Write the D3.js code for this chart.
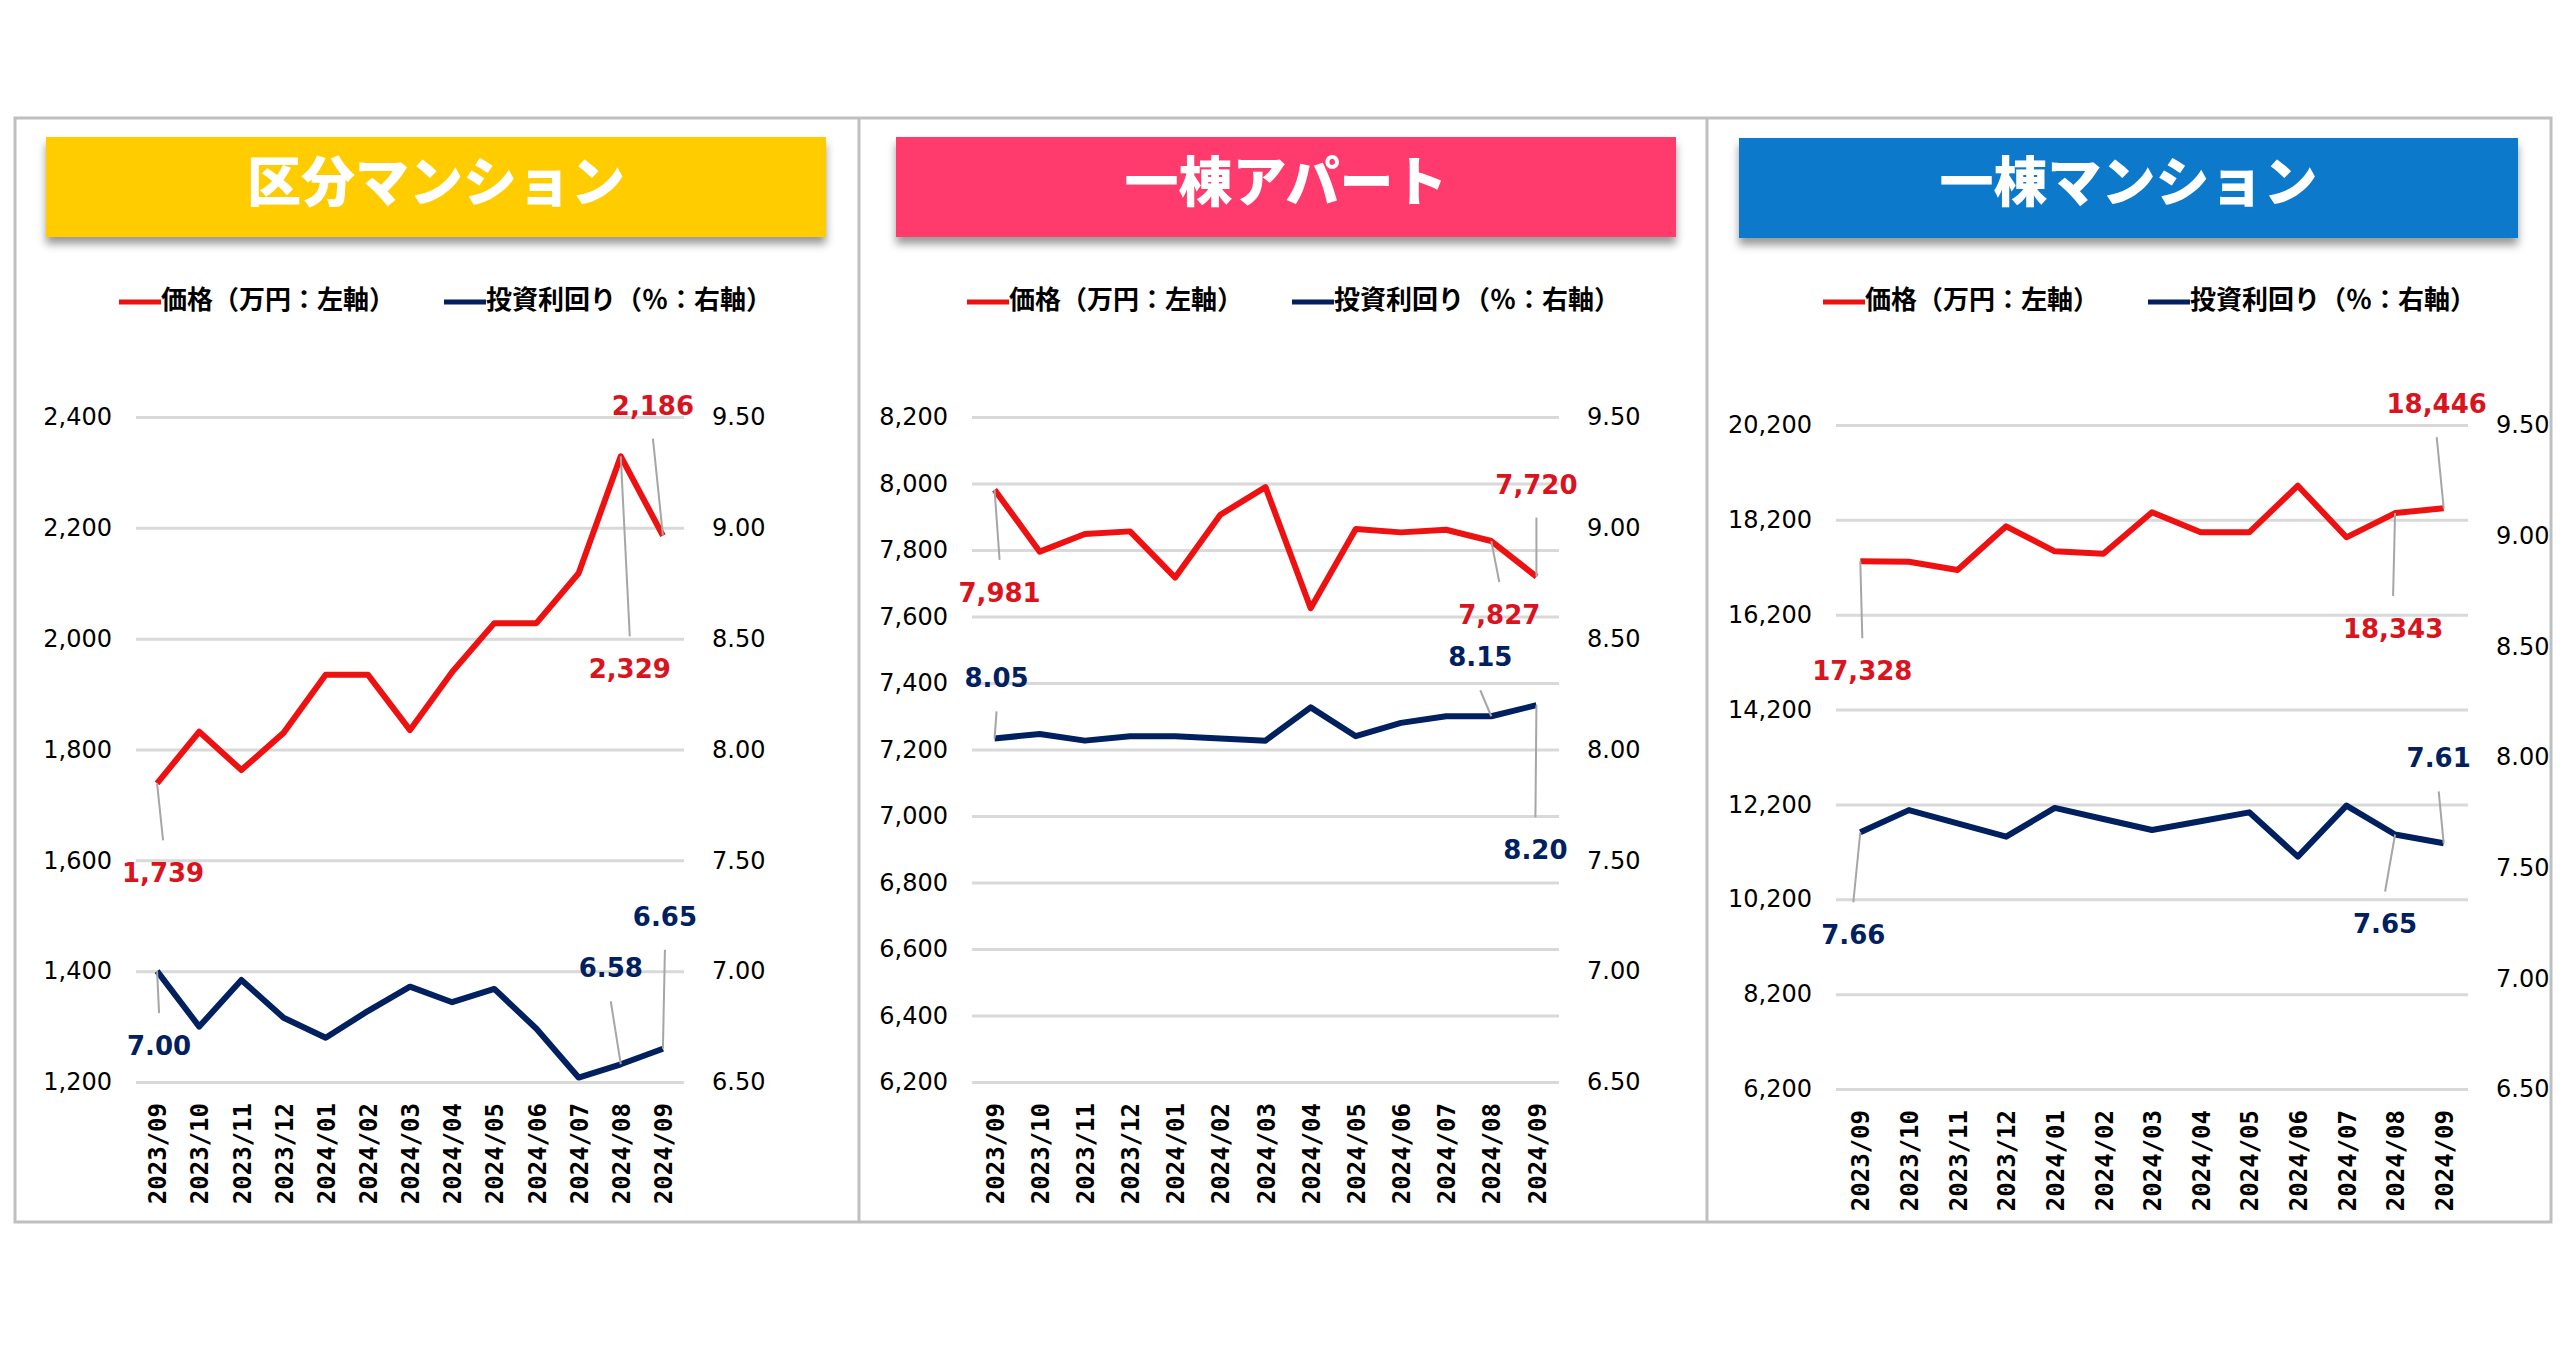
<!DOCTYPE html>
<html><head><meta charset="utf-8">
<script src="https://cdn.jsdelivr.net/npm/d3@7"></script>
<style>html,body{margin:0;padding:0;background:#fff;overflow:hidden}</style>
</head><body>
<svg id="c" width="2574" height="1349"></svg>
<script>
// ---------- data ----------
const months = ["2023/09","2023/10","2023/11","2023/12","2024/01","2024/02","2024/03","2024/04","2024/05","2024/06","2024/07","2024/08","2024/09"];
const titles = ["区分マンション","一棟アパート","一棟マンション"];
const legendPrice = "価格（万円：左軸）";
const legendYield = "投資利回り（％：右軸）";
const kubunPrice = [1739,1832,1763,1830,1935,1935,1835,1940,2028,2028,2118,2329,2186];
const kubunYield = [7.00,6.75,6.96,6.79,6.70,6.82,6.93,6.86,6.92,6.74,6.52,6.58,6.65];
const apartPrice = [7981,7795,7848,7856,7717,7906,7989,7625,7863,7853,7861,7827,7720];
const apartYield = [8.05,8.07,8.04,8.06,8.06,8.05,8.04,8.19,8.06,8.12,8.15,8.15,8.20];
const mansionPrice = [17328,17318,17143,18064,17537,17486,18359,17937,17937,18920,17832,18343,18446];
const mansionYield = [7.66,7.76,7.70,7.64,7.77,7.72,7.67,7.71,7.75,7.55,7.78,7.65,7.61];
const kubunPriceTicks = [1200,1400,1600,1800,2000,2200,2400];
const apartPriceTicks = [6200,6400,6600,6800,7000,7200,7400,7600,7800,8000,8200];
const mansionPriceTicks = [6200,8200,10200,12200,14200,16200,18200,20200];
const yieldTicks = [6.5,7.0,7.5,8.0,8.5,9.0,9.5];
const labeledIdx = [0,11,12];

// ---------- layout / style ----------
const RED_LINE = "#EE1111", RED_TEXT = "#D9141E", NAVY = "#002060";
const panels = [
  {title:titles[0], color:"#FFCC05", banner:[46,137,780,100], legendX:119,
   plot:{left:136,right:684,top:417,bottom:1082},
   price:kubunPrice, yld:kubunYield, pTicks:kubunPriceTicks,
   pOff:[[6,90],[9,213],[-10,-130]], yOff:[[2,75],[-10,-96],[2,-132]]},
  {title:titles[1], color:"#FE3B6C", banner:[896,137,780,100], legendX:967,
   plot:{left:972,right:1559,top:417,bottom:1082},
   price:apartPrice, yld:apartYield, pTicks:apartPriceTicks,
   pOff:[[5,103],[8,74],[0,-92]], yOff:[[2,-60],[-11,-59],[-1,145]]},
  {title:titles[2], color:"#0779CB", banner:[1739,138,779,100], legendX:1823,
   plot:{left:1836,right:2468,top:425,bottom:1089},
   price:mansionPrice, yld:mansionYield, pTicks:mansionPriceTicks,
   pOff:[[2,110],[-2,116],[-7,-104]], yOff:[[-7,103],[-10,90],[-5,-85]]}
];

const svg = d3.select("#c");
svg.append("rect").attr("width",2574).attr("height",1349).attr("fill","#fff");

const defs = svg.append("defs");
const f = defs.append("filter").attr("id","sh").attr("x","-5%").attr("y","-20%").attr("width","110%").attr("height","150%");
f.append("feDropShadow").attr("dx",0).attr("dy",7).attr("stdDeviation",4).attr("flood-color","#000").attr("flood-opacity",0.4);

// outer frame
svg.append("rect").attr("x",15).attr("y",118).attr("width",2536).attr("height",1104)
  .attr("fill","none").attr("stroke","#BFBFBF").attr("stroke-width",3);
[859,1707].forEach(x=>svg.append("line").attr("x1",x).attr("x2",x).attr("y1",118).attr("y2",1222)
  .attr("stroke","#BFBFBF").attr("stroke-width",3));

const fmtP = d3.format(","), fmtY = d3.format(".2f");

panels.forEach(p=>{
  const g = svg.append("g");
  const [bx,by,bw,bh] = p.banner;
  g.append("rect").attr("x",bx).attr("y",by).attr("width",bw).attr("height",bh)
    .attr("fill",p.color).attr("filter","url(#sh)");
  g.append("text").attr("x",bx+bw/2).attr("y",178).attr("text-anchor","middle")
    .attr("dominant-baseline","central").attr("fill","#fff")
    .attr("font-family","'Noto Sans CJK JP'").attr("font-weight",900).attr("font-size",54)
    .text(p.title);

  // legend
  const lg = g.append("g").attr("font-family","'Noto Sans CJK JP'").attr("font-weight",700).attr("font-size",26);
  [[p.legendX,RED_LINE,legendPrice],[p.legendX+325,NAVY,legendYield]].forEach(([lx,c,t])=>{
    lg.append("line").attr("x1",lx).attr("x2",lx+42).attr("y1",302).attr("y2",302)
      .attr("stroke",c).attr("stroke-width",5);
    lg.append("text").attr("x",lx+42).attr("y",297).attr("dominant-baseline","central").attr("fill","#000").text(t);
  });

  const pl = p.plot;
  const x = d3.scalePoint().domain(months).range([pl.left,pl.right]).padding(0.5);
  const yP = d3.scaleLinear().domain([p.pTicks[0],p.pTicks[p.pTicks.length-1]]).range([pl.bottom,pl.top]);
  const yY = d3.scaleLinear().domain([6.5,9.5]).range([pl.bottom,pl.top]);

  // left axis + gridlines
  const ax = g.append("g").attr("transform",`translate(${pl.left},0)`)
    .call(d3.axisLeft(yP).tickValues(p.pTicks).tickSize(-(pl.right-pl.left)).tickPadding(24).tickFormat(fmtP));
  ax.select(".domain").remove();
  ax.selectAll("line").attr("stroke","#D9D9D9").attr("stroke-width",3);
  ax.selectAll("text").attr("font-family","'DejaVu Sans'").attr("font-size",24).attr("fill","#000");

  // right axis
  const ar = g.append("g").attr("transform",`translate(${pl.right},0)`)
    .call(d3.axisRight(yY).tickValues(yieldTicks).tickSize(0).tickPadding(28).tickFormat(fmtY));
  ar.select(".domain").remove();
  ar.selectAll("text").attr("font-family","'DejaVu Sans'").attr("font-size",24).attr("fill","#000");

  // x axis
  const axb = g.append("g").attr("transform",`translate(0,${pl.bottom})`)
    .call(d3.axisBottom(x).tickSize(0));
  axb.select(".domain").remove();
  axb.selectAll("text").attr("transform","rotate(-90)").attr("text-anchor","end")
    .attr("x",-21).attr("y",0).attr("dy","0.36em")
    .attr("font-family","'DejaVu Sans Mono'").attr("font-weight",700).attr("font-size",24).attr("fill","#000");

  // lines
  const lineP = d3.line().x((d,i)=>x(months[i])).y(d=>yP(d));
  const lineY = d3.line().x((d,i)=>x(months[i])).y(d=>yY(d));
  g.append("path").datum(p.yld).attr("d",lineY).attr("fill","none").attr("stroke",NAVY)
    .attr("stroke-width",6).attr("stroke-linejoin","round");
  g.append("path").datum(p.price).attr("d",lineP).attr("fill","none").attr("stroke",RED_LINE)
    .attr("stroke-width",6).attr("stroke-linejoin","round");

  // data labels with leader lines
  const addLabels = (vals, scale, offs, color, fmt)=>{
    labeledIdx.forEach((idx,k)=>{
      const px = x(months[idx]), py = scale(vals[idx]);
      const lx = px + offs[k][0], ly = py + offs[k][1];
      const ey = offs[k][1] > 0 ? ly - 33 : ly + 33;
      g.append("line").attr("x1",px).attr("y1",py).attr("x2",lx).attr("y2",ey)
        .attr("stroke","#A6A6A6").attr("stroke-width",2);
      g.append("text").attr("x",lx).attr("y",ly).attr("text-anchor","middle")
        .attr("dominant-baseline","central").attr("fill",color)
        .attr("font-family","'DejaVu Sans'").attr("font-weight",700).attr("font-size",26)
        .text(fmt(vals[idx]));
    });
  };
  addLabels(p.price, yP, p.pOff, RED_TEXT, fmtP);
  addLabels(p.yld, yY, p.yOff, NAVY, fmtY);
});
</script>
</body></html>
